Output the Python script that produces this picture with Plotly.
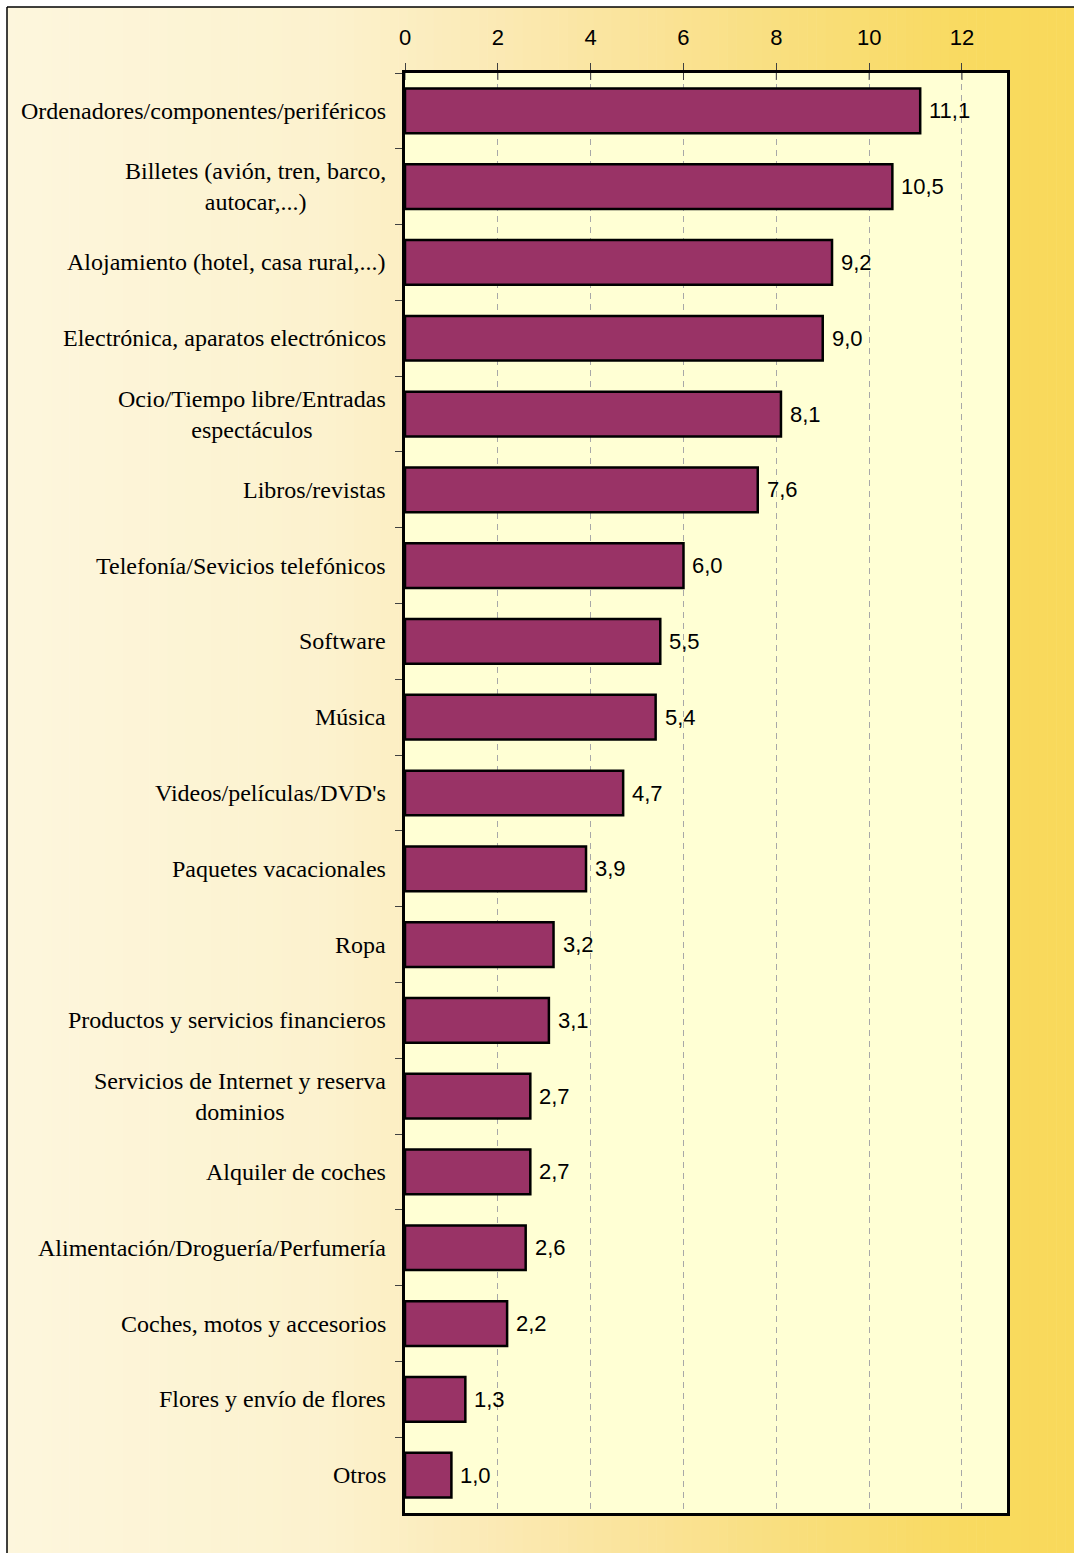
import plotly.graph_objects as go

# Online purchase categories and their percentages
categories = [
    "Ordenadores/componentes/periféricos",
    "Billetes (avión, tren, barco,<br>autocar,...)",
    "Alojamiento (hotel, casa rural,...)",
    "Electrónica, aparatos electrónicos",
    "Ocio/Tiempo libre/Entradas<br>espectáculos",
    "Libros/revistas",
    "Telefonía/Sevicios telefónicos",
    "Software",
    "Música",
    "Videos/películas/DVD's",
    "Paquetes vacacionales",
    "Ropa",
    "Productos y servicios financieros",
    "Servicios de Internet y reserva<br>dominios",
    "Alquiler de coches",
    "Alimentación/Droguería/Perfumería",
    "Coches, motos y accesorios",
    "Flores y envío de flores",
    "Otros",
]
values = [11.1, 10.5, 9.2, 9.0, 8.1, 7.6, 6.0, 5.5, 5.4, 4.7, 3.9, 3.2, 3.1, 2.7, 2.7, 2.6, 2.2, 1.3, 1.0]
x_ticks = [0, 2, 4, 6, 8, 10, 12]

W, H = 1074, 1553
L, R, T, B = 405, 67, 73, 40
PW, PH = W - L - R, H - T - B

ids = [f"c{i}" for i in range(len(categories))]

fig = go.Figure()
fig.add_trace(go.Bar(
    x=values, y=ids, orientation="h",
    marker=dict(color="#993366", line=dict(color="#000000", width=2.5)),
    width=0.59,
    hoverinfo="skip",
))

# value labels to the right of each bar
label_font = dict(family="Liberation Sans, Arial, sans-serif", size=22, color="#000000")
annotations = []
for cid, v in zip(ids, values):
    annotations.append(dict(
        x=v, y=cid, xref="x", yref="y", text=f"{v:.1f}".replace(".", ","),
        showarrow=False, xanchor="left", yanchor="middle", xshift=7, font=label_font,
    ))
# category names, right aligned against the axis with centred wrapped lines
for cid, name in zip(ids, categories):
    annotations.append(dict(
        x=0, y=cid, xref="paper", yref="y", text=name, showarrow=False,
        xanchor="right", yanchor="middle", xshift=-17, align="center",
        font=dict(family="Liberation Serif, Times New Roman, serif", size=24, color="#000000"),
    ))

# horizontal background gradient behind the whole figure
stops = [
    (0.0, (253, 246, 221)), (0.3, (252, 242, 206)), (0.45, (251, 234, 182)),
    (0.6, (250, 227, 152)), (0.75, (249, 222, 122)), (0.9, (249, 218, 96)),
    (1.0, (249, 217, 90)),
]

def grad(t):
    for (t0, c0), (t1, c1) in zip(stops, stops[1:]):
        if t <= t1:
            f = (t - t0) / (t1 - t0) if t1 > t0 else 0
            return tuple(round(a + (b - a) * f) for a, b in zip(c0, c1))
    return stops[-1][1]

def px_x(p):
    return (p - L) / PW

def px_y(p):
    # p measured from the top of the figure
    return (H - B - p) / PH

shapes = []
x0px = 7
n = 120
step = (W - x0px) / n
for i in range(n):
    xa = x0px + i * step
    xb = xa + step + 0.6
    c = grad((i + 0.5) / n)
    shapes.append(dict(
        type="rect", xref="paper", yref="paper", layer="below",
        x0=px_x(xa), x1=px_x(xb), y0=px_y(H + 2), y1=px_y(7),
        fillcolor=f"rgb{c}", line=dict(width=0),
    ))
# light plot area background on top of the gradient
shapes.append(dict(type="rect", xref="paper", yref="paper", layer="below",
                   x0=0, x1=1, y0=0, y1=1, fillcolor="#FFFFD4", line=dict(width=0)))
# outer frame edges (left and top)
shapes.append(dict(type="line", xref="paper", yref="paper", layer="below",
                   x0=px_x(7), x1=px_x(7), y0=px_y(H + 2), y1=px_y(7),
                   line=dict(color="#000000", width=1.5)))
shapes.append(dict(type="line", xref="paper", yref="paper", layer="below",
                   x0=px_x(7), x1=px_x(W + 5), y0=px_y(7), y1=px_y(7),
                   line=dict(color="#000000", width=1.5)))
# short inner part of the top tick marks
for t in x_ticks:
    shapes.append(dict(type="line", xref="x", yref="paper", layer="above",
                       x0=t, x1=t, y0=1, y1=px_y(T + 7),
                       line=dict(color="#404040", width=1)))

fig.update_layout(
    width=W, height=H,
    margin=dict(l=L, r=R, t=T, b=B, pad=0),
    paper_bgcolor="#FFFFFF",
    plot_bgcolor="#FFFFD4",
    showlegend=False,
    bargap=0.41,
    shapes=shapes,
    annotations=annotations,
    xaxis=dict(
        side="top", range=[0, 12.97], tickvals=x_ticks,
        ticktext=[str(t) for t in x_ticks],
        tickfont=dict(family="Liberation Sans, Arial, sans-serif", size=22, color="#000000"),
        ticks="outside", ticklen=7, tickcolor="#404040", tickwidth=1,
        ticklabelstandoff=9,
        showgrid=True, gridcolor="#A8A8A8", gridwidth=1, griddash="6px,5px",
        showline=True, linecolor="#000000", linewidth=2.5, mirror=True,
        zeroline=False, fixedrange=True,
    ),
    yaxis=dict(
        categoryorder="array", categoryarray=ids, autorange="reversed",
        showticklabels=False, ticks="outside", ticklen=7, tickcolor="#404040",
        tickwidth=1, tickson="boundaries",
        showgrid=False, showline=True, linecolor="#000000", linewidth=2.5,
        mirror=True, zeroline=False, fixedrange=True,
    ),
)

fig.write_html("out.html")
